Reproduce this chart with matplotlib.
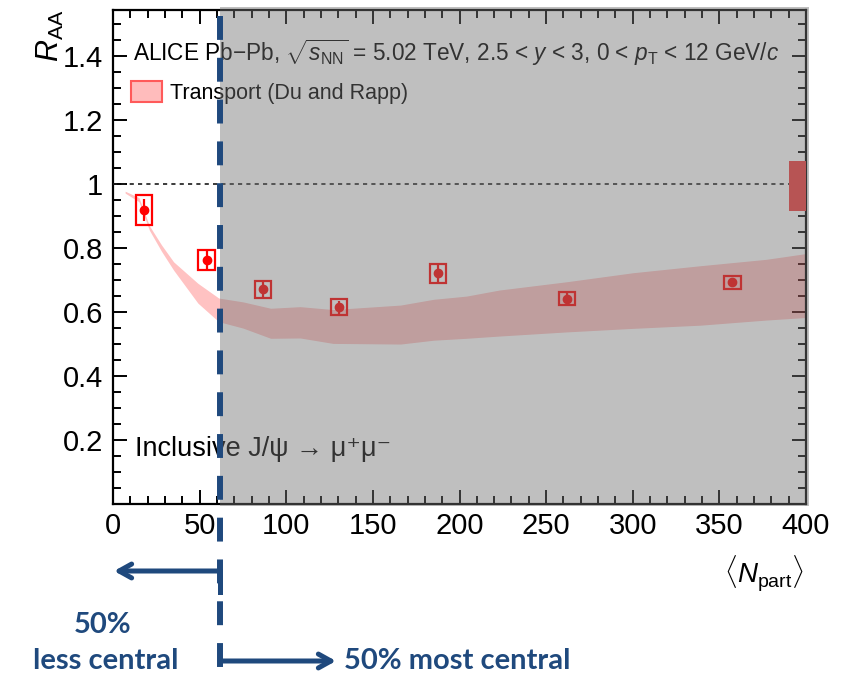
import matplotlib
matplotlib.use("Agg")
import matplotlib.pyplot as plt
from matplotlib.patches import Patch, Rectangle
from matplotlib.lines import Line2D
import matplotlib.transforms as mtransforms
import numpy as np

# --- data ---
npart = [18.0, 54.0, 86.5, 130.5, 187.5, 262.0, 357.5]
raa = [0.919, 0.763, 0.671, 0.615, 0.721, 0.642, 0.693]
raa_stat = [0.035, 0.035, 0.027, 0.021, 0.028, 0.021, 0.013]
raa_syst = [0.047, 0.032, 0.026, 0.025, 0.029, 0.021, 0.020]

band_x = [7, 15, 21, 28, 35, 49, 61, 75, 91, 108, 127, 166, 185, 204, 223, 262, 300, 339, 377, 400]
band_lo = [0.972, 0.945, 0.856, 0.790, 0.731, 0.628, 0.570, 0.550, 0.518, 0.519, 0.502,
           0.500, 0.512, 0.518, 0.525, 0.538, 0.549, 0.559, 0.575, 0.583]
band_hi = [0.978, 0.958, 0.870, 0.810, 0.757, 0.690, 0.644, 0.632, 0.612, 0.617, 0.608,
           0.622, 0.640, 0.650, 0.669, 0.695, 0.723, 0.745, 0.765, 0.783]

glob_x = 395.0
glob_w = 10.0
glob_lo = 0.917
glob_hi = 1.072

split_npart = 61.6   # 50% most / less central boundary

xticks = [0, 50, 100, 150, 200, 250, 300, 350, 400]
yticks = [0.2, 0.4, 0.6, 0.8, 1.0, 1.2, 1.4]
ytick_labels = ["0.2", "0.4", "0.6", "0.8", "1", "1.2", "1.4"]

W, H = 846, 675
blue = "#1F497D"

plt.rcParams["font.family"] = ["Liberation Sans", "DejaVu Sans"]
plt.rcParams["mathtext.fontset"] = "custom"
plt.rcParams["mathtext.rm"] = "Liberation Sans"
plt.rcParams["mathtext.it"] = "Liberation Sans:italic"
plt.rcParams["mathtext.bf"] = "Liberation Sans:bold"

fig = plt.figure(figsize=(W / 100, H / 100), dpi=100)
ax = fig.add_axes([113 / W, 1 - 504 / H, (806 - 113) / W, (504 - 9.5) / H])


def fx(px):
    return px / W


def fy(py):
    return 1 - py / H


# transport band
ax.fill_between(band_x, band_lo, band_hi, color="red", alpha=0.24, lw=0, zorder=2)

# reference line
ax.axhline(1.0, color="0.1", lw=1.2, ls=(0, (2.5, 2.5)), zorder=3)

# global uncertainty box
ax.bar(glob_x, glob_hi - glob_lo, bottom=glob_lo, width=glob_w, color="#f03c3c",
       lw=0, zorder=3)

# data: syst boxes + stat bars
ax.bar(npart, [2 * s for s in raa_syst], bottom=[r - s for r, s in zip(raa, raa_syst)],
       width=9.5, fill=False, edgecolor="red", linewidth=1.6, zorder=5)
ax.errorbar(npart, raa, yerr=raa_stat, fmt="o", color="red", ms=6, elinewidth=1.6,
            capsize=0, zorder=6)

ax.set_xlim(0, 400)
ax.set_ylim(0, 1.546)
ax.set_xticks(xticks)
ax.set_xticks(np.arange(0, 401, 10), minor=True)
ax.set_yticks(yticks)
ax.set_yticklabels(ytick_labels)
ax.set_yticks(np.arange(0, 1.55, 0.05), minor=True)
ax.tick_params(which="both", direction="in", top=True, right=True, width=1.4,
               labelsize=21)
ax.tick_params(which="major", length=10)
ax.tick_params(which="minor", length=5.5)
ax.tick_params(axis="x", pad=6)
ax.tick_params(axis="y", pad=7)
for sp in ax.spines.values():
    sp.set_linewidth(1.6)

# texts inside the frame
ax.text((133 - 113) / (806 - 113), (504 - 53) / (504 - 9.5),
        r"ALICE Pb$-$Pb, $\sqrt{s_{\rm NN}}$ = 5.02 TeV, 2.5 < $y$ < 3, 0 < $p_{\rm T}$ < 12 GeV/$c$",
        transform=ax.transAxes, fontsize=16.3, va="center", ha="left", zorder=4)
ax.text((135 - 113) / (806 - 113), (504 - 449) / (504 - 9.5),
        "Inclusive J/ψ → μ⁺μ⁻", transform=ax.transAxes, fontsize=19.5,
        va="center", ha="left", zorder=4)

leg = ax.legend(handles=[Patch(facecolor="#ffbcbc", edgecolor="#ff5a5a", lw=1.5,
                               label="Transport (Du and Rapp)")],
                loc="upper left", bbox_to_anchor=((131 - 113) / (806 - 113), (504 - 81) / (504 - 9.5)),
                frameon=False, fontsize=15.5, handlelength=1.45, handleheight=1.1,
                handletextpad=0.35, borderpad=0, borderaxespad=0)
leg.set_zorder(4)

# axis titles
ax.text(-0.09, 1.0, r"$R_{\rm AA}$", rotation=90, transform=ax.transAxes,
        fontsize=22, va="top", ha="center")
fig.text(fx(804), fy(574), r"$\langle N_{\rm part}\rangle$", fontsize=20,
         ha="right", va="center")

# grey shade over the 50% most central region
trans = mtransforms.blended_transform_factory(ax.transData, ax.transAxes)
ax.add_patch(Rectangle((split_npart, -0.005), 401.6 - split_npart, 1.01,
                       transform=trans, facecolor="#737373", alpha=0.45, lw=0,
                       clip_on=False, zorder=10))

# dashed separator through the figure
xs = fx(220)
fig.add_artist(Line2D([xs, xs], [fy(16), fy(H + 5)], color=blue, lw=4.3,
                      ls=(0, (4, 3)), solid_capstyle="butt", dash_capstyle="butt"))

# arrows and centrality labels
fig.add_artist(Line2D([xs, xs], [fy(571), fy(592)], color=blue, lw=3.6,
                      solid_capstyle="projecting"))
ax.annotate("", xy=(fx(114), fy(571)), xytext=(xs, fy(571)), xycoords="figure fraction",
            textcoords="figure fraction",
            arrowprops=dict(arrowstyle="->,head_length=0.9,head_width=0.5", color=blue, lw=3.6,
                            shrinkA=0, shrinkB=0))
ax.annotate("", xy=(fx(336), fy(661)), xytext=(xs, fy(661)), xycoords="figure fraction",
            textcoords="figure fraction",
            arrowprops=dict(arrowstyle="->,head_length=0.9,head_width=0.5", color=blue, lw=3.6,
                            shrinkA=0, shrinkB=0))

cal = ["Lato", "Open Sans", "DejaVu Sans"]
fig.text(fx(103), fy(625), "50%", color=blue, fontsize=21, fontweight="bold",
         family=cal, ha="center", va="center")
fig.text(fx(106), fy(661), "less central", color=blue, fontsize=21, fontweight="bold",
         family=cal, ha="center", va="center")
fig.text(fx(344), fy(661), "50% most central", color=blue, fontsize=21, fontweight="bold",
         family=cal, ha="left", va="center")

fig.savefig("out.png", dpi=100)
